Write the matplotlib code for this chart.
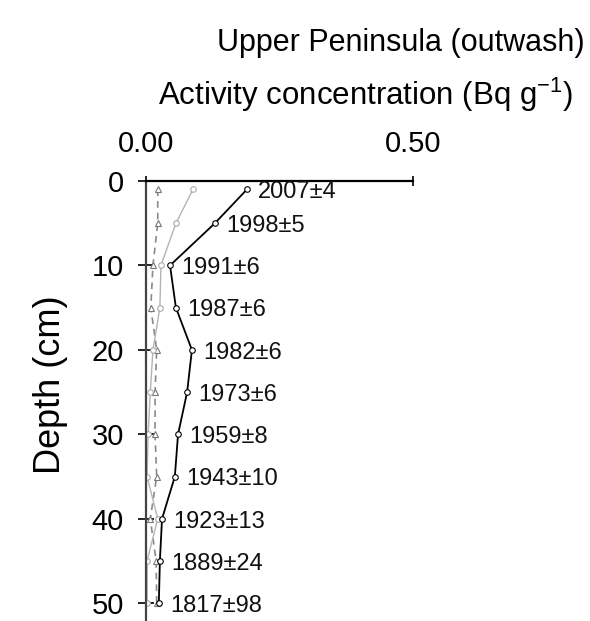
import matplotlib
matplotlib.use('Agg')
import matplotlib.pyplot as plt

plt.rcParams['font.family'] = ['Liberation Sans', 'DejaVu Sans']

# depth profile (cm) and activity concentrations (Bq/g)
depth = [1, 5, 10, 15, 20, 25, 30, 35, 40, 45, 50]
black_vals = [0.189, 0.129, 0.045, 0.056, 0.086, 0.077, 0.060, 0.054, 0.030, 0.026, 0.024]
gray_vals = [0.088, 0.056, 0.028, 0.026, 0.013, 0.008, 0.004, 0.002, 0.022, 0.002, 0.002]
dashed_vals = [0.022, 0.022, 0.013, 0.009, 0.020, 0.017, 0.017, 0.020, 0.008, 0.019, 0.020]
ages = ['2007±4', '1998±5', '1991±6', '1987±6', '1982±6', '1973±6',
        '1959±8', '1943±10', '1923±13', '1889±24', '1817±98']

fig = plt.figure(figsize=(5.9, 6.21), dpi=100)
ax = fig.add_axes([146 / 590, 0, 267 / 590, 1 - 181 / 621])

ax.plot(dashed_vals, depth, linestyle=(0, (4, 3)), color='#8a8a8a', linewidth=1.2,
        marker='^', markersize=4, markerfacecolor='white', markeredgecolor='#777777', markeredgewidth=0.8)
ax.plot(gray_vals, depth, linestyle='-', color='#b4b4b4', linewidth=1.0,
        marker='o', markersize=4, markerfacecolor='white', markeredgecolor='#aaaaaa', markeredgewidth=0.8)
ax.plot(black_vals, depth, linestyle='-', color='black', linewidth=1.3,
        marker='o', markersize=4, markerfacecolor='white', markeredgecolor='black', markeredgewidth=0.8)

for x, y, lab in zip(black_vals, depth, ages):
    ax.annotate(lab, (x, y), xytext=(8, -2), textcoords='offset points',
                ha='left', va='center', fontsize=17, color='#111111')

ax.set_xlim(0, 0.5)
ax.set_ylim(52.1, 0)
ax.set_xticks([0.0, 0.5])
ax.set_xticklabels(['0.00', '0.50'])
ax.set_yticks([0, 10, 20, 30, 40, 50])
ax.xaxis.tick_top()
ax.tick_params(axis='x', direction='inout', length=7, width=1.2, labelsize=21, pad=13)
ax.tick_params(axis='y', direction='inout', length=12, width=1.2, labelsize=21, pad=10)

for side in ['right', 'bottom']:
    ax.spines[side].set_visible(False)
ax.spines['top'].set_linewidth(1.6)
ax.spines['left'].set_linewidth(1.6)
ax.spines['left'].set_color('#444444')
ax.patch.set_alpha(0)

fig.text(401 / 590, 1 - 43 / 621, 'Upper Peninsula (outwash)', ha='center', va='center', fontsize=22)
fig.text(366 / 590, 1 - 95 / 621, 'Activity concentration (Bq g$\\mathregular{^{-1}}$)',
         ha='center', va='center', fontsize=22.5)
fig.text(50 / 590, 1 - 385 / 621, 'Depth (cm)', rotation=90, ha='center', va='center', fontsize=26)

fig.savefig('out.png', dpi=100)
